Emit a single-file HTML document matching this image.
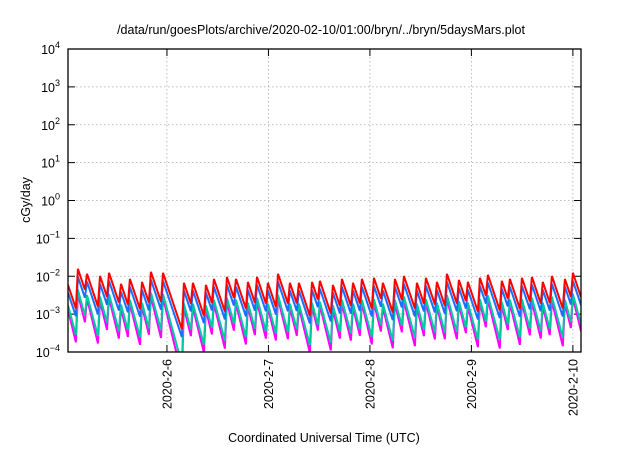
<!DOCTYPE html>
<html><head><meta charset="utf-8"><style>
body{margin:0;background:#fff;width:640px;height:448px;overflow:hidden}
text{font-family:"Liberation Sans",sans-serif;fill:#000}
</style></head><body>
<svg id="chart" width="640" height="448" viewBox="0 0 640 448">
<text x="321" y="34" font-size="12.5" text-anchor="middle">/data/run/goesPlots/archive/2020-02-10/01:00/bryn/../bryn/5daysMars.plot</text>
<text transform="translate(30,200) rotate(-90)" font-size="12.5" text-anchor="middle">cGy/day</text>
<text x="324" y="442" font-size="12.5" text-anchor="middle">Coordinated Universal Time (UTC)</text>
<g id="grid"></g><g id="ticks"></g>
<defs><clipPath id="pc"><rect x="68" y="49" width="513" height="303"/></clipPath></defs>
<g id="series" clip-path="url(#pc)"></g>
<rect x="68" y="49" width="513" height="303" fill="none" stroke="#000" stroke-width="1.3"/>
</svg>
<script>
const peakTimes=[5.123,5.212,5.340,5.429,5.547,5.635,5.754,5.842,5.961,6.167,6.256,6.384,6.463,6.591,6.680,6.798,6.887,6.995,7.094,7.212,7.300,7.429,7.507,7.635,7.724,7.833,7.921,8.039,8.128,8.246,8.335,8.463,8.552,8.660,8.759,8.877,8.966,9.084,9.163,9.300,9.379,9.498,9.596,9.704,9.793,9.921,10.000];
const redPeaks=[0.0157,0.0116,0.0102,0.0123,0.0063,0.0085,0.0071,0.0131,0.0123,0.0067,0.0067,0.0059,0.0085,0.0096,0.0085,0.0071,0.0096,0.0067,0.0116,0.0067,0.0067,0.0071,0.0076,0.0059,0.0085,0.0067,0.0085,0.0091,0.0067,0.0085,0.0102,0.0067,0.0091,0.0071,0.0116,0.0080,0.0071,0.0091,0.0109,0.0076,0.0085,0.0091,0.0096,0.0071,0.0102,0.0085,0.0123];
const bluePeaks=[0.0097,0.0072,0.0063,0.0076,0.0039,0.0053,0.0044,0.0081,0.0076,0.0042,0.0042,0.0037,0.0053,0.0060,0.0053,0.0044,0.0060,0.0042,0.0072,0.0042,0.0042,0.0044,0.0047,0.0037,0.0053,0.0042,0.0053,0.0056,0.0042,0.0053,0.0063,0.0042,0.0056,0.0044,0.0072,0.0050,0.0044,0.0056,0.0068,0.0047,0.0053,0.0056,0.0060,0.0044,0.0063,0.0053,0.0076];
const greenPeaks=[0.0044,0.0032,0.0029,0.0034,0.0018,0.0024,0.0020,0.0037,0.0034,0.0019,0.0019,0.0017,0.0024,0.0027,0.0024,0.0020,0.0027,0.0019,0.0032,0.0019,0.0019,0.0020,0.0021,0.0017,0.0024,0.0019,0.0024,0.0025,0.0019,0.0024,0.0029,0.0019,0.0025,0.0020,0.0032,0.0022,0.0020,0.0025,0.0031,0.0021,0.0024,0.0025,0.0027,0.0020,0.0029,0.0024,0.0034];
const magentaPeaks=[0.0035,0.0026,0.0022,0.0027,0.0014,0.0019,0.0016,0.0029,0.0027,0.0015,0.0015,0.0013,0.0019,0.0021,0.0019,0.0016,0.0021,0.0015,0.0026,0.0015,0.0015,0.0016,0.0017,0.0013,0.0019,0.0015,0.0019,0.0020,0.0015,0.0019,0.0022,0.0015,0.0020,0.0016,0.0026,0.0018,0.0016,0.0020,0.0024,0.0017,0.0019,0.0020,0.0021,0.0016,0.0022,0.0019,0.0027];
const startValues=[0.0013,0.0017,0.0037,0.0059];
const decayRates=[11,10,8,8];
const seriesNames=["magenta","green","blue","red"];
const yTickExps=[4,3,2,1,0,-1,-2,-3,-4];
const xTickDays=[6,7,8,9,10];
const xTickLabels=["2020-2-6","2020-2-7","2020-2-8","2020-2-9","2020-2-10"];

const X0=68,X1=581,Y0=49,Y1=352,D0=5.025,D1=10.08;
const sx=d=>X0+(d-D0)/(D1-D0)*(X1-X0);
const sy=v=>Y0+(4-Math.log10(v))/8*(Y1-Y0);
const NS="http://www.w3.org/2000/svg";
const mk=(t,a,p)=>{const e=document.createElementNS(NS,t);for(const k in a)e.setAttribute(k,a[k]);p.appendChild(e);return e;};
const grid=document.getElementById('grid'),ticks=document.getElementById('ticks'),ser=document.getElementById('series');

yTickExps.forEach(ex=>{
  const y=sy(Math.pow(10,ex));
  if(ex<4&&ex>-4){const g=mk('line',{x1:X0,x2:X1,y1:y,y2:y,stroke:'#aaa','stroke-width':0.8,'stroke-dasharray':'1.5,2.5'},grid);
  
  }
  mk('line',{x1:X0,x2:X0+7,y1:y,y2:y,stroke:'#000'},ticks);
  mk('line',{x1:X1-7,x2:X1,y1:y,y2:y,stroke:'#000'},ticks);
  const t=mk('text',{x:X0-8,y:y+5,'font-size':'12.5','text-anchor':'end'},ticks);
  
  
  t.appendChild(document.createTextNode('10'));
  const s=mk('tspan',{dy:-6,'font-size':'9'},t);s.textContent=String(ex).replace('-','\u2212');
});
xTickDays.forEach((d,i)=>{
  const x=sx(d);
  const g=mk('line',{x1:x,x2:x,y1:Y0,y2:Y1,stroke:'#aaa','stroke-width':0.8,'stroke-dasharray':'1.5,2.5'},grid);
  
  
  mk('line',{x1:x,x2:x,y1:Y1-7,y2:Y1,stroke:'#000'},ticks);
  mk('line',{x1:x,x2:x,y1:Y0,y2:Y0+7,stroke:'#000'},ticks);
  const t=mk('text',{transform:`translate(${x+4.5},${Y1+7}) rotate(-90)`,'font-size':'12.5','text-anchor':'end'},ticks);
  
  
  t.textContent=xTickLabels[i];
});
const peaksBy=[magentaPeaks,greenPeaks,bluePeaks,redPeaks];
const colors={magenta:'#ff00ff',green:'#00c9a0',blue:'#1a6fff',red:'#ff0000'};
seriesNames.forEach((nm,si)=>{
  const pk=peaksBy[si],k=decayRates[si];
  let pts=[],t=D0,v=startValues[si];
  pts.push([t,v]);
  peakTimes.forEach((pt,i)=>{
    const tr=pt-0.02;
    const vr=v*Math.pow(10,-k*(tr-t));
    pts.push([tr,vr]);pts.push([pt,pk[i]]);t=pt;v=pk[i];
  });
  pts.push([D1,v*Math.pow(10,-k*(D1-t))]);
  const p=mk('polyline',{points:pts.map(q=>sx(q[0]).toFixed(1)+','+sy(q[1]).toFixed(1)).join(' '),fill:'none',stroke:colors[nm],'stroke-width':2,'stroke-linejoin':'miter'},ser);
  
  
});
</script>
</body></html>
